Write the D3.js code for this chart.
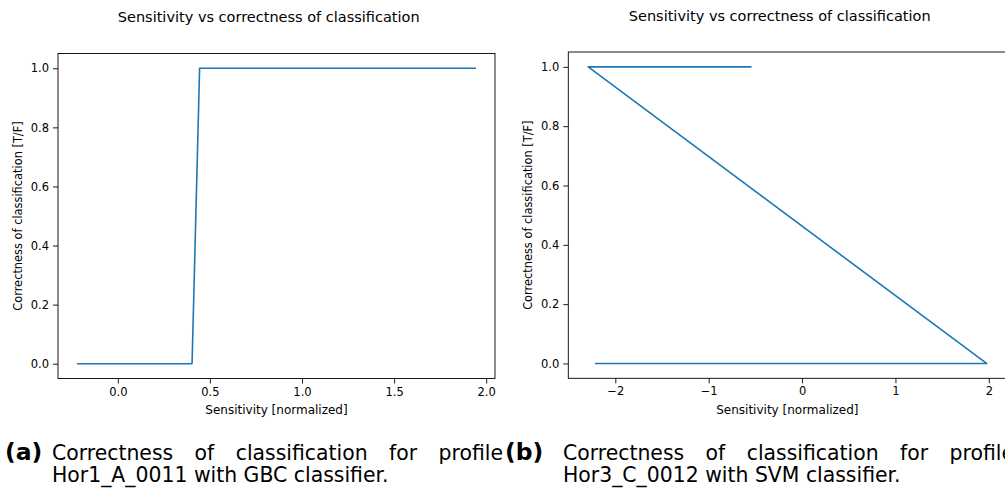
<!DOCTYPE html>
<html><head><meta charset="utf-8">
<script src="https://cdn.jsdelivr.net/npm/d3@7"></script>
<style>body{margin:0;background:#fff}svg{display:block}</style>
</head><body><svg id="c" width="1005" height="496"></svg>
<script>
// ---- data ----
const gbcX = [-0.217, 0.403, 0.444, 1.94];
const gbcY = [0, 0, 1, 1];
const svmX = [-0.55, -2.29, 1.976, -2.21];
const svmY = [1, 1, 0, 0];
const xTicksA = [0, 0.5, 1.0, 1.5, 2.0];
const xTickLabelsA = ["0.0", "0.5", "1.0", "1.5", "2.0"];
const xTicksB = [-2, -1, 0, 1, 2];
const xTickLabelsB = ["\u22122", "\u22121", "0", "1", "2"];
const yTicks = [0, 0.2, 0.4, 0.6, 0.8, 1.0];
const yTickLabels = ["0.0", "0.2", "0.4", "0.6", "0.8", "1.0"];
const title = "Sensitivity vs correctness of classification";
const xLabel = "Sensitivity [normalized]";
const yLabel = "Correctness of classification [T/F]";
const captionA = {tag: "(a)", line1: ["Correctness", "of", "classification", "for", "profile"], line2: "Hor1_A_0011 with GBC classifier."};
const captionB = {tag: "(b)", line1: ["Correctness", "of", "classification", "for", "profile"], line2: "Hor3_C_0012 with SVM classifier."};

const svg = d3.select("#c");
const FONT = "DejaVu Sans, sans-serif";

function pad(ext){const d=ext[1]-ext[0];return [ext[0]-0.05*d, ext[1]+0.05*d];}

function panel(o){
  const g = svg.append("g");
  const x = d3.scaleLinear().domain(pad(d3.extent(o.xs))).range([o.left, o.right]);
  const y = d3.scaleLinear().domain(pad([0,1])).range([o.bottom, o.top]);
  const pts = o.xs.map((v,i)=>[v,o.ys[i]]);
  g.append("path").datum(pts)
    .attr("d", d3.line().x(d=>x(d[0])).y(d=>y(d[1])))
    .attr("fill","none").attr("stroke","#1f77b4").attr("stroke-width",1.6)
    .attr("stroke-linejoin","round").attr("stroke-linecap","square");
  const xa = d3.axisBottom(x).tickValues(o.xTicks).tickFormat((d,i)=>o.xLabels[i]).tickSize(5).tickPadding(4).tickSizeOuter(0);
  const ya = d3.axisLeft(y).tickValues(yTicks).tickFormat((d,i)=>yTickLabels[i]).tickSize(5).tickPadding(4).tickSizeOuter(0);
  const gx = g.append("g").attr("transform",`translate(0,${o.bottom})`).call(xa);
  const gy = g.append("g").attr("transform",`translate(${o.left},0)`).call(ya);
  [gx,gy].forEach(a=>{
    a.select(".domain").remove();
    a.selectAll("line").attr("stroke","#000").attr("stroke-width",0.9);
    a.selectAll("text").attr("font-family",FONT).attr("font-size",11.5).attr("fill","#000");
  });
  g.append("rect").attr("x",o.left).attr("y",o.top).attr("width",o.right-o.left).attr("height",o.bottom-o.top)
    .attr("fill","none").attr("stroke","#000").attr("stroke-width",0.9);
  g.append("text").attr("x",o.titleX).attr("y",o.titleY).attr("text-anchor","middle")
    .attr("font-family",FONT).attr("font-size",14.5).attr("fill","#000").text(title);
  g.append("text").attr("x",(o.left+o.right)/2).attr("y",o.xLabelY).attr("text-anchor","middle")
    .attr("font-family",FONT).attr("font-size",12).attr("fill","#000").text(xLabel);
  g.append("text").attr("transform",`translate(${o.yLabelX},${(o.top+o.bottom)/2}) rotate(-90)`)
    .attr("text-anchor","middle").attr("dominant-baseline","central")
    .attr("font-family",FONT).attr("font-size",11.4).attr("fill","#000").text(yLabel);
}

panel({xs:gbcX, ys:gbcY, left:58, right:495, top:53.5, bottom:378.5, xTicks:xTicksA, xLabels:xTickLabelsA,
  titleX:268.7, titleY:22, xLabelY:414, yLabelX:18});
panel({xs:svmX, ys:svmY, left:568.3, right:1006.5, top:52, bottom:378.3, xTicks:xTicksB, xLabels:xTickLabelsB,
  titleX:779.7, titleY:21, xLabelY:414, yLabelX:528});

const CF = "DejaVu Sans, sans-serif";
function caption(c, tagX, textX, width){
  const g = svg.append("g");
  g.append("text").attr("x",tagX).attr("y",460).attr("font-family",CF).attr("font-weight","bold")
    .attr("font-size",23.5).attr("fill","#000").text(c.tag);
  const ws = c.line1.map(w=>g.append("text").attr("y",460).attr("font-family",CF).attr("font-size",20.4).attr("fill","#000").text(w));
  const lens = ws.map(t=>t.node().getComputedTextLength());
  const gap = (width - d3.sum(lens))/(ws.length-1);
  let cx = textX;
  ws.forEach((t,i)=>{t.attr("x",cx); cx += lens[i]+gap;});
  g.append("text").attr("x",textX).attr("y",482).attr("font-family",CF).attr("font-size",20.4).attr("fill","#000").text(c.line2);
}
caption(captionA, 5, 52, 451);
caption(captionB, 505, 563, 451);
</script></body></html>
